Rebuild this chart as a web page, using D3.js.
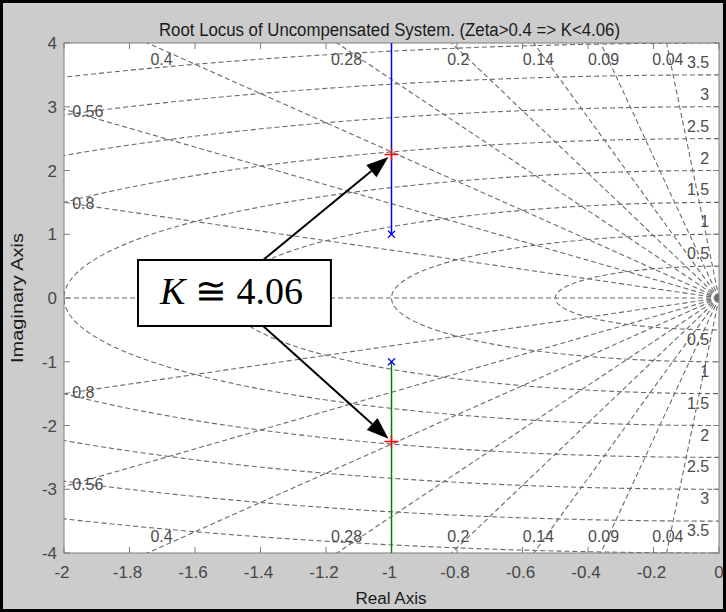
<!DOCTYPE html>
<html>
<head>
<meta charset="utf-8">
<title>Root Locus</title>
<style>
    body { margin: 0; background: #fff; }
    svg text { font-family: "Liberation Sans", Arial, sans-serif; }
</style>
</head>
<body>
<div id="chart"></div>
<script src="https://d3js.org/d3.v7.min.js"></script>
<script>
// axis ticks
const xTicks = [-2, -1.8, -1.6, -1.4, -1.2, -1, -0.8, -0.6, -0.4, -0.2, 0];
const yTicks = [-4, -3, -2, -1, 0, 1, 2, 3, 4];

// sgrid values
const zetaValues = [0.04, 0.09, 0.14, 0.2, 0.28, 0.4, 0.56, 0.8];
const wnValues = [0.5, 1, 1.5, 2, 2.5, 3, 3.5, 4];

// root locus branches and poles
const upperBranch = [[-1, 1], [-1, 4]];
const lowerBranch = [[-1, -1], [-1, -4]];
const poles = [[-1, 1], [-1, -1]];
const gainValue = 4.06;
const gainRoots = [[-1, 2.25], [-1, -2.25]];

const W = 726, H = 612;
const plot = { left: 64, right: 719, top: 43, bottom: 553 };

const x = d3.scaleLinear().domain([-2, 0]).range([plot.left, plot.right]);
const y = d3.scaleLinear().domain([-4, 4]).range([plot.bottom, plot.top]);

const svg = d3.select('#chart').append('svg')
    .attr('width', W).attr('height', H);

// figure background + frame
svg.append('rect').attr('width', W).attr('height', H).attr('fill', '#cccccc');
svg.append('rect').attr('x', 1.5).attr('y', 1.5).attr('width', W - 3).attr('height', H - 3)
    .attr('fill', 'none').attr('stroke', '#000').attr('stroke-width', 3);

svg.append('defs').append('clipPath').attr('id', 'plotclip')
    .append('rect')
    .attr('x', plot.left).attr('y', plot.top)
    .attr('width', plot.right - plot.left).attr('height', plot.bottom - plot.top);

// plot area
svg.append('rect')
    .attr('x', plot.left).attr('y', plot.top)
    .attr('width', plot.right - plot.left).attr('height', plot.bottom - plot.top)
    .attr('fill', '#fff');

const line = d3.line().x(d => x(d[0])).y(d => y(d[1]));
const grid = svg.append('g').attr('clip-path', 'url(#plotclip)')
    .attr('fill', 'none').attr('stroke', '#6a6a6a')
    .attr('stroke-width', 1.1).attr('stroke-dasharray', '5,3');

// damping rays
zetaValues.forEach(z => {
    const s = Math.sqrt(1 - z * z);
    grid.append('path').attr('d', line([[0, 0], [-z * 10, s * 10]]));
    grid.append('path').attr('d', line([[0, 0], [-z * 10, -s * 10]]));
});
grid.append('path').attr('d', line([[0, 0], [-3, 0]]));

// natural frequency circles
wnValues.forEach(wn => {
    const pts = d3.range(0, 181).map(i => {
        const a = Math.PI / 2 + i * Math.PI / 180;
        return [wn * Math.cos(a), wn * Math.sin(a)];
    });
    grid.append('path').attr('d', line(pts));
});

// grid labels
const lab = svg.append('g').attr('fill', '#4d4d4d').style('font-size', '16px');
zetaValues.forEach(z => {
    const slope = Math.sqrt(1 - z * z) / z;
    if (-4 / slope > -2) {
        const xt = -3.9 / slope;
        lab.append('text').attr('x', x(xt)).attr('y', y(3.9) + 16)
            .attr('text-anchor', 'middle').text(z);
        lab.append('text').attr('x', x(xt)).attr('y', y(-3.9) - 5)
            .attr('text-anchor', 'middle').text(z);
    } else {
        const yt = slope * 1.975;
        lab.append('text').attr('x', x(-1.975)).attr('y', y(yt) + 5.5).text(z);
        lab.append('text').attr('x', x(-1.975)).attr('y', y(-yt) + 5.5).text(z);
    }
});
wnValues.filter(wn => wn < 4).forEach(wn => {
    lab.append('text').attr('x', x(-0.03)).attr('y', y(wn) - 7)
        .attr('text-anchor', 'end').text(wn);
    lab.append('text').attr('x', x(-0.03)).attr('y', y(-wn) + 15)
        .attr('text-anchor', 'end').text(wn);
});

// box + ticks
const axisColor = '#7f7f7f';
svg.append('rect')
    .attr('x', plot.left).attr('y', plot.top)
    .attr('width', plot.right - plot.left).attr('height', plot.bottom - plot.top)
    .attr('fill', 'none').attr('stroke', axisColor);

const tk = svg.append('g').attr('stroke', axisColor);
xTicks.forEach(t => {
    tk.append('line').attr('x1', x(t)).attr('x2', x(t)).attr('y1', plot.bottom).attr('y2', plot.bottom - 6);
    tk.append('line').attr('x1', x(t)).attr('x2', x(t)).attr('y1', plot.top).attr('y2', plot.top + 6);
});
yTicks.forEach(t => {
    tk.append('line').attr('y1', y(t)).attr('y2', y(t)).attr('x1', plot.left).attr('x2', plot.left + 6);
    tk.append('line').attr('y1', y(t)).attr('y2', y(t)).attr('x1', plot.right).attr('x2', plot.right - 6);
});

const tl = svg.append('g').attr('fill', '#474747').style('font-size', '17px');
xTicks.forEach(t => {
    tl.append('text').attr('x', x(t) - (t < 0 ? 2 : 0)).attr('y', plot.bottom + 25)
        .attr('text-anchor', 'middle').text(t);
});
yTicks.forEach(t => {
    tl.append('text').attr('x', plot.left - 7).attr('y', y(t) + 6)
        .attr('text-anchor', 'end').text(t);
});

// locus
const loc = svg.append('g').attr('clip-path', 'url(#plotclip)').attr('fill', 'none');
loc.append('path').attr('d', line(upperBranch)).attr('stroke', '#0000ff').attr('stroke-width', 1.5);
loc.append('path').attr('d', line(lowerBranch)).attr('stroke', '#008000').attr('stroke-width', 1.5);

poles.forEach(p => {
    const px = x(p[0]), py = y(p[1]);
    loc.append('path')
        .attr('d', `M${px - 3.5},${py - 3.5}L${px + 3.5},${py + 3.5}M${px - 3.5},${py + 3.5}L${px + 3.5},${py - 3.5}`)
        .attr('stroke', '#0000ff').attr('stroke-width', 1.2);
});
gainRoots.forEach(p => {
    const px = x(p[0]), py = y(p[1]);
    loc.append('path')
        .attr('d', `M${px - 7},${py}L${px + 7},${py}M${px},${py - 6}L${px},${py + 6}`)
        .attr('stroke', '#ff0000').attr('stroke-width', 1.5);
});

// title and axis labels
svg.append('text').attr('x', 389.5).attr('y', 36)
    .attr('text-anchor', 'middle').attr('fill', '#1a1a1a')
    .style('font-size', '18px')
    .attr('textLength', 461).attr('lengthAdjust', 'spacingAndGlyphs')
    .text('Root Locus of Uncompensated System. (Zeta>0.4 => K<' + gainValue + ')');
svg.append('text').attr('x', 391).attr('y', 604)
    .attr('text-anchor', 'middle').attr('fill', '#1a1a1a')
    .style('font-size', '16px')
    .attr('textLength', 71).attr('lengthAdjust', 'spacingAndGlyphs')
    .text('Real Axis');
svg.append('text')
    .attr('transform', 'translate(23,298) rotate(-90)')
    .attr('text-anchor', 'middle').attr('fill', '#1a1a1a')
    .style('font-size', '16px')
    .attr('textLength', 130).attr('lengthAdjust', 'spacingAndGlyphs')
    .text('Imaginary Axis');

// annotation box with arrows
const box = { x0: -1.774, x1: -1.185, y0: 0.596, y1: -0.439 };
const ann = svg.append('g');

function arrow(fromX, fromY, tip) {
    const x1 = x(fromX), y1 = y(fromY);
    const dx = x(tip[0]) - x1, dy = y(tip[1]) - y1;
    const len = Math.sqrt(dx * dx + dy * dy);
    const ux = dx / len, uy = dy / len;
    const tx = x1 + ux * (len - 4), ty = y1 + uy * (len - 4);
    const hl = 22, hw = 8;
    const bx = tx - ux * hl, by = ty - uy * hl;
    ann.append('line').attr('x1', x1).attr('y1', y1).attr('x2', bx).attr('y2', by)
        .attr('stroke', '#000').attr('stroke-width', 2);
    ann.append('path')
        .attr('d', `M${tx},${ty}L${bx - uy * hw},${by + ux * hw}L${bx + uy * hw},${by - ux * hw}Z`)
        .attr('fill', '#000');
}
arrow(-1.392, box.y0, gainRoots[0]);
arrow(-1.392, box.y1, gainRoots[1]);

ann.append('rect')
    .attr('x', x(box.x0)).attr('y', y(box.y0))
    .attr('width', x(box.x1) - x(box.x0)).attr('height', y(box.y1) - y(box.y0))
    .attr('fill', '#fff').attr('stroke', '#000').attr('stroke-width', 2);

const kt = ann.append('text')
    .attr('x', (x(box.x0) + x(box.x1)) / 2 - 3).attr('y', 304)
    .attr('text-anchor', 'middle')
    .style('font-family', '"Liberation Serif", "Times New Roman", serif')
    .style('font-size', '38px');
kt.append('tspan').style('font-style', 'italic').text('K');
kt.append('tspan').text(' \u2245 ' + gainValue);
</script>
</body>
</html>
